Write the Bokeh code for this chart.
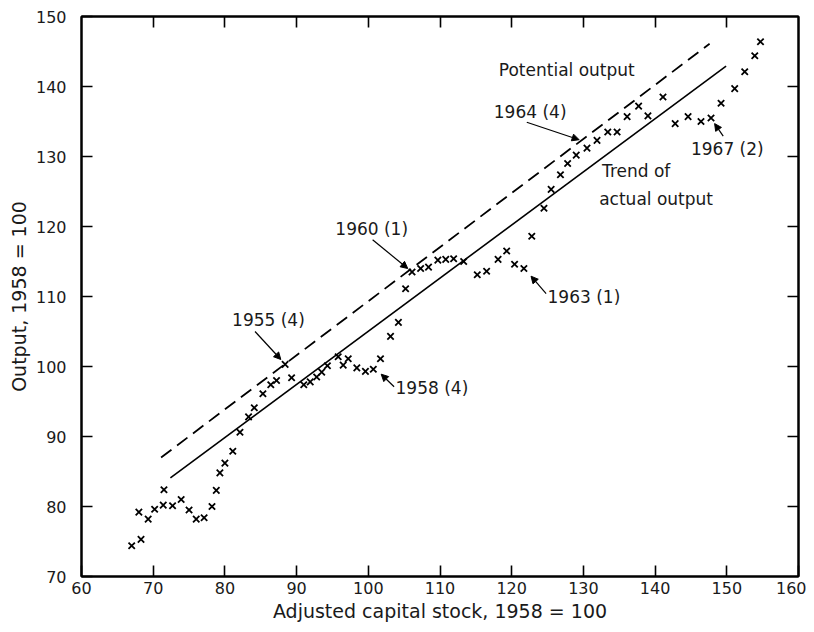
from bokeh.plotting import figure
from bokeh.models import (LinearAxis, FixedTicker, Range1d, Label, Arrow,
                          NormalHead, ColumnDataSource, CustomJSTickFormatter)
from bokeh.embed import file_html
from bokeh.resources import INLINE

# ---- data ----
capital = [67.0, 68.3, 68.0, 69.3, 70.2, 71.4, 71.5, 72.7, 73.9, 75.0, 76.0,
           77.1, 78.2, 78.8, 79.3, 80.0, 81.1, 82.1, 83.3, 84.1, 85.3, 86.4,
           87.2, 88.4, 89.3, 91.0, 91.9, 92.8, 93.5, 94.3, 95.8, 96.5, 97.2,
           98.4, 99.6, 100.7, 101.7, 103.1, 104.2, 105.2, 106.1, 107.3, 108.4,
           109.7, 110.8, 111.9, 113.3, 115.2, 116.5, 118.1, 119.3, 120.4, 121.7,
           122.8, 124.5, 125.5, 126.8, 127.8, 129.0, 130.5, 131.9, 133.4, 134.7,
           136.1, 137.7, 139.0, 141.1, 142.8, 144.6, 146.4, 147.8, 149.2, 151.1,
           152.5, 153.9, 154.7]
output = [74.4, 75.3, 79.2, 78.2, 79.6, 80.2, 82.4, 80.1, 81.0, 79.5, 78.2,
          78.4, 80.0, 82.3, 84.8, 86.2, 87.9, 90.6, 92.8, 94.1, 96.1, 97.4,
          98.0, 100.3, 98.4, 97.4, 97.8, 98.5, 99.2, 100.1, 101.4, 100.2, 101.1,
          99.8, 99.3, 99.6, 101.1, 104.3, 106.3, 111.1, 113.5, 114.0, 114.2,
          115.2, 115.3, 115.4, 115.0, 113.1, 113.6, 115.3, 116.5, 114.6, 114.0,
          118.6, 122.6, 125.3, 127.4, 129.0, 130.2, 131.2, 132.3, 133.5, 133.5,
          135.7, 137.2, 135.8, 138.5, 134.7, 135.7, 135.0, 135.5, 137.6, 139.7,
          142.1, 144.4, 146.4]

potential_x = [71.1, 147.6]
potential_y = [87.0, 146.1]
trend_x = [72.4, 149.9]
trend_y = [84.1, 142.9]

x_ticks = [60, 70, 80, 90, 100, 110, 120, 130, 140, 150, 160]
y_ticks = [70, 80, 90, 100, 110, 120, 130, 140, 150]

FONT = "DejaVu Sans"
TICK_FS = "16px"
LABEL_FS = "19px"
ANN_FS = "17px"
INK = "#1a1a1a"

p = figure(width=806, height=624, output_backend="svg", toolbar_location=None,
           x_range=Range1d(60, 160), y_range=Range1d(70, 150),
           min_border_left=81, min_border_right=8, min_border_top=16,
           min_border_bottom=47)
p.background_fill_color = "white"
p.border_fill_color = "white"
p.outline_line_color = "black"
p.outline_line_width = 2
p.xgrid.visible = False
p.ygrid.visible = False

def style(ax, ticks, labels=True):
    ax.ticker = FixedTicker(ticks=ticks)
    ax.axis_line_color = "black"
    ax.axis_line_width = 2
    ax.major_tick_in = 11
    ax.major_tick_out = 0
    ax.major_tick_line_width = 1.6
    ax.minor_tick_line_color = None
    ax.major_label_text_font = FONT
    ax.major_label_text_color = INK
    ax.major_label_text_font_size = TICK_FS
    if not labels:
        ax.formatter = CustomJSTickFormatter(code="return ''")
        ax.major_label_standoff = 0

style(p.xaxis[0], x_ticks)
style(p.yaxis[0], y_ticks)
p.xaxis[0].major_label_standoff = 5
p.yaxis[0].major_label_standoff = 15
p.xaxis[0].axis_label = "Adjusted capital stock, 1958 = 100"
p.yaxis[0].axis_label = "Output, 1958 = 100"
for ax in (p.xaxis[0], p.yaxis[0]):
    ax.axis_label_text_font = FONT
    ax.axis_label_text_font_size = LABEL_FS
    ax.axis_label_text_font_style = "normal"
    ax.axis_label_text_color = INK
p.xaxis[0].axis_label_standoff = 3
p.yaxis[0].axis_label_standoff = 3

top = LinearAxis()
style(top, x_ticks[1:-1], labels=False)
p.add_layout(top, "above")
right = LinearAxis()
style(right, y_ticks[1:-1], labels=False)
p.add_layout(right, "right")

# trend lines
p.line(potential_x, potential_y, line_color="black", line_width=1.8,
       line_dash="13 7")
p.line(trend_x, trend_y, line_color="black", line_width=1.6)

# data points
src = ColumnDataSource(dict(x=capital, y=output))
p.scatter("x", "y", source=src, marker="x", size=9, line_width=1.8,
          line_color="black")

# annotations
texts = [
    ("Potential output", 118.2, 142.3),
    ("1964 (4)", 117.5, 136.3),
    ("1960 (1)", 95.4, 119.6),
    ("1963 (1)", 125.0, 109.9),
    ("1958 (4)", 103.8, 96.9),
    ("1955 (4)", 81.0, 106.6),
    ("Trend of", 132.6, 128.0),
    ("actual output", 132.2, 124.0),
    ("1967 (2)", 145.0, 131.1),
]
for t, x, y in texts:
    p.add_layout(Label(x=x, y=y, text=t, text_font=FONT, text_font_size=ANN_FS,
                       text_baseline="middle", text_align="left",
                       text_color=INK))

arrows = [
    (122.1, 134.9, 129.4, 132.4),
    (100.6, 118.1, 105.5, 114.0),
    (124.8, 110.4, 122.7, 112.9),
    (103.6, 97.1, 101.8, 98.9),
    (84.2, 105.0, 87.8, 101.0),
    (149.5, 132.9, 148.3, 134.7),
]
for x0, y0, x1, y1 in arrows:
    p.add_layout(Arrow(end=NormalHead(size=7, fill_color="black",
                                      line_color="black"),
                       x_start=x0, y_start=y0, x_end=x1, y_end=y1,
                       line_width=1.2, line_color="black"))

open("out.html", "w").write(file_html(p, INLINE))
